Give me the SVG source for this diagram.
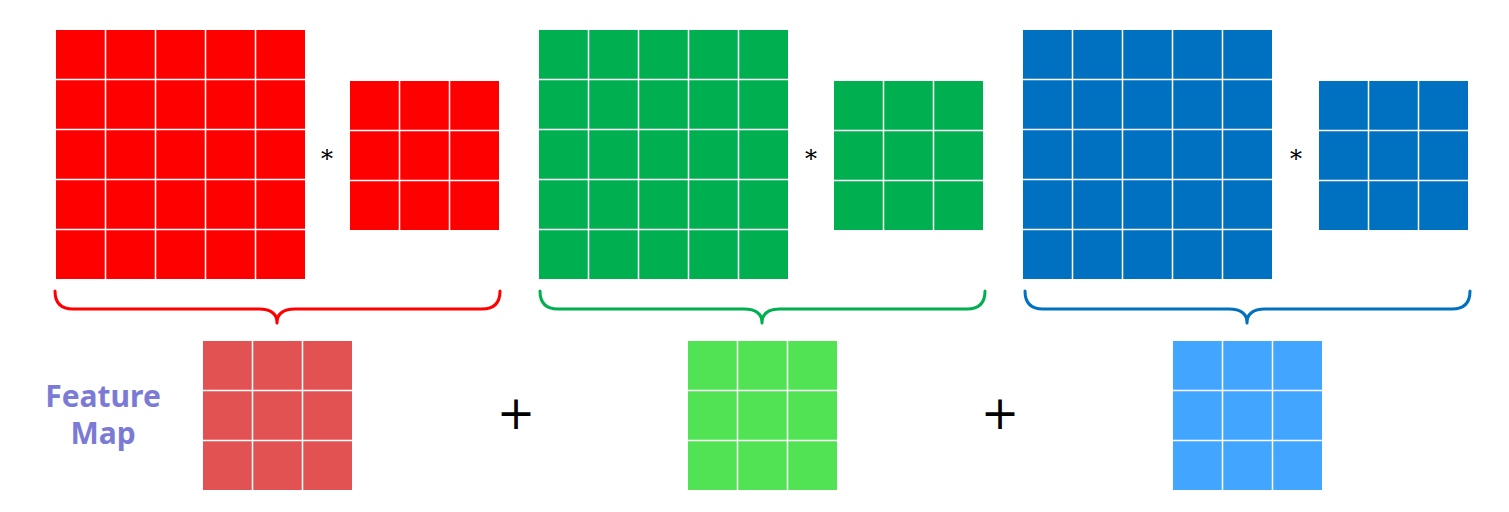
<svg xmlns="http://www.w3.org/2000/svg" width="1509" height="512" viewBox="0 0 1509 512">
<defs>
<style>
.g{stroke:#fff;stroke-width:1.5;fill:none}
.br{fill:none;stroke-width:3;stroke-linecap:round;stroke-linejoin:round}
.op{font-family:"DejaVu Serif","Liberation Serif",serif;fill:#000;text-anchor:middle}
.lbl{font-family:"Noto Sans","Open Sans",sans-serif;font-weight:bold;font-size:30px;fill:#7B7BD6;text-anchor:middle}
</style>
<g id="grid5">
<rect x="0" y="0" width="249" height="249"/>
<path class="g" d="M49.5,0V249M99.5,0V249M149.5,0V249M199.5,0V249M0,49.5H249M0,99.5H249M0,149.5H249M0,199.5H249"/>
</g>
<g id="grid3">
<rect x="0" y="0" width="149" height="149"/>
<path class="g" d="M49.5,0V149M99.5,0V149M0,49.5H149M0,99.5H149"/>
</g>
<path id="brace" d="M0,0 Q0,18 18,18 L204,18 Q222,18 222,32 Q222,18 240,18 L427,18 Q445,18 445,0"/>
</defs>
<g id="red-input"><use href="#grid5" x="56" y="30" fill="#FF0000"/></g>
<g id="red-kernel"><use href="#grid3" x="350" y="81" fill="#FF0000"/></g>
<g id="green-input"><use href="#grid5" x="539" y="30" fill="#00B050"/></g>
<g id="green-kernel"><use href="#grid3" x="834" y="81" fill="#00B050"/></g>
<g id="blue-input"><use href="#grid5" x="1023" y="30" fill="#0070C0"/></g>
<g id="blue-kernel"><use href="#grid3" x="1319" y="81" fill="#0070C0"/></g>
<g id="operators">
<text class="op" x="327" y="167" font-size="24">*</text>
<text class="op" x="811" y="167" font-size="24">*</text>
<text class="op" x="1296" y="167" font-size="24">*</text>
<text class="op" x="516" y="429" font-size="46" font-family="DejaVu Sans,sans-serif">+</text>
<text class="op" x="1000" y="429" font-size="46" font-family="DejaVu Sans,sans-serif">+</text>
</g>
<g id="connectors">
<use href="#brace" x="55" y="291" class="br" stroke="#FF0000"/>
<use href="#brace" x="540" y="291" class="br" stroke="#00B050"/>
<use href="#brace" x="1025" y="291" class="br" stroke="#0070C0"/>
</g>
<g id="red-feature"><use href="#grid3" x="203" y="341" fill="#E35252"/></g>
<g id="green-feature"><use href="#grid3" x="688" y="341" fill="#52E354"/></g>
<g id="blue-feature"><use href="#grid3" x="1173" y="341" fill="#42A5FF"/></g>
<g id="label">
<text class="lbl" x="103" y="407">Feature</text>
<text class="lbl" x="103" y="444">Map</text>
</g>
</svg>
